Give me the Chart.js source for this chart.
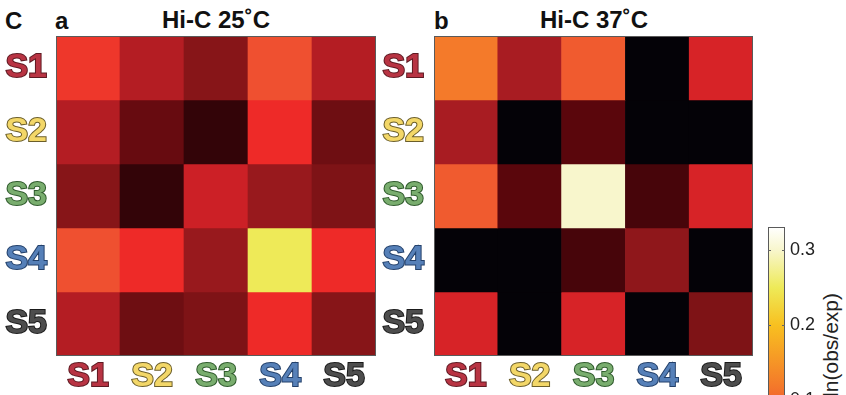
<!DOCTYPE html>
<html>
<head>
<meta charset="utf-8">
<script src="https://cdn.jsdelivr.net/npm/chart.js@4"></script>
<style>
  html, body { margin: 0; padding: 0; background: #fff; width: 846px; height: 395px; overflow: hidden; position: relative; font-family: "Liberation Sans", Arial, Helvetica, sans-serif; }
  canvas { position: absolute; }
  .txt { position: absolute; font-weight: bold; color: #111; white-space: nowrap; line-height: 1; }
  .cbtitle { position: absolute; width: 200px; text-align: right; font-size: 21px; line-height: 1; color: #222; white-space: nowrap; transform: rotate(-90deg); transform-origin: left top; }
</style>
</head>
<body>
<div class="txt" style="left:5px;top:9px;font-size:24px">C</div>
<div class="txt" style="left:55px;top:9px;font-size:24px">a</div>
<div class="txt" style="left:434px;top:9px;font-size:24px">b</div>
<div class="txt" id="titleA" style="left:56px;top:8px;width:320px;text-align:center;font-size:24px"></div>
<div class="txt" id="titleB" style="left:434px;top:8px;width:320px;text-align:center;font-size:24px"></div>
<div class="cbtitle" id="cbTitle" style="left:820px;top:493px"></div>

<canvas id="heatA" width="380" height="395" style="left:0;top:0"></canvas>
<canvas id="heatB" width="380" height="395" style="left:378px;top:0"></canvas>
<canvas id="cbar" width="106" height="600" style="left:740px;top:0"></canvas>

<script>
// Segments along both axes of each contact map
const categories = ['S1', 'S2', 'S3', 'S4', 'S5'];

// ln(obs/exp) contact enrichment, rows S1..S5 (top to bottom), columns S1..S5
const hic25 = [
  [0.060, 0.025, 0.000, 0.080, 0.025],
  [0.025, -0.030, -0.060, 0.050, -0.025],
  [0.000, -0.060, 0.035, 0.010, -0.010],
  [0.080, 0.050, 0.010, 0.250, 0.050],
  [0.025, -0.025, -0.010, 0.050, 0.000]
];
const hic37 = [
  [0.120, 0.020, 0.090, -0.090, 0.040],
  [0.020, -0.090, -0.040, -0.090, -0.090],
  [0.090, -0.040, 0.300, -0.050, 0.040],
  [-0.090, -0.090, -0.050, 0.005, -0.090],
  [0.040, -0.090, 0.040, -0.090, -0.010]
];

// Panel titles and colour bar
const panelTitles = ['Hi-C 25˚C', 'Hi-C 37˚C'];
const colorbarTicks = [0.1, 0.2, 0.3];
const colorbarLabel = 'ln(obs/exp)';
const colorMin = -0.1;
const colorMax = 0.331;

// "hot"-style colour map: value -> colour stops
const colormapStops = [
  [-0.100, '#030106'],
  [-0.080, '#050208'],
  [-0.060, '#330408'],
  [-0.040, '#5a060c'],
  [-0.020, '#741014'],
  [0.000, '#871518'],
  [0.020, '#a81c22'],
  [0.035, '#cc2026'],
  [0.050, '#ee2a28'],
  [0.080, '#ef5030'],
  [0.120, '#f47a2a'],
  [0.200, '#f8c020'],
  [0.250, '#eeea58'],
  [0.300, '#f8f6cc'],
  [0.331, '#ffffff']
];

// Segment label colours (fill / outline)
const labelFill = ['#b83443', '#f3d768', '#79ad6e', '#5680b8', '#4d4d4d'];
const labelStroke = ['#5e1a22', '#6b5e2a', '#2f5a2c', '#24416b', '#1a1a1a'];

document.getElementById('titleA').textContent = panelTitles[0];
document.getElementById('titleB').textContent = panelTitles[1];
document.getElementById('cbTitle').textContent = colorbarLabel;

function hexToRgb(h) {
  return [parseInt(h.slice(1, 3), 16), parseInt(h.slice(3, 5), 16), parseInt(h.slice(5, 7), 16)];
}
function colorFor(v) {
  if (v <= colormapStops[0][0]) return colormapStops[0][1];
  for (let i = 1; i < colormapStops.length; i++) {
    const [v1, c1] = colormapStops[i];
    if (v <= v1) {
      const [v0, c0] = colormapStops[i - 1];
      const t = (v - v0) / (v1 - v0);
      const a = hexToRgb(c0), b = hexToRgb(c1);
      const m = a.map((x, k) => Math.round(x + (b[k] - x) * t));
      return 'rgb(' + m.join(',') + ')';
    }
  }
  return colormapStops[colormapStops.length - 1][1];
}

// Thin frame around the plotting area
const framePlugin = {
  id: 'frame',
  afterDatasetsDraw(chart) {
    const { ctx, chartArea: a } = chart;
    ctx.save();
    ctx.strokeStyle = '#5a5a5a';
    ctx.lineWidth = 1;
    ctx.strokeRect(a.left + 0.5, a.top + 0.5, a.right - a.left - 1, a.bottom - a.top - 1);
    ctx.restore();
  }
};

// Short inward tick marks on both edges of the colour bar
const innerTicksPlugin = {
  id: 'innerTicks',
  afterDatasetsDraw(chart) {
    const { ctx, chartArea: a } = chart;
    const ys = chart.scales.y;
    ctx.save();
    ctx.strokeStyle = '#666';
    ctx.lineWidth = 1;
    ys.ticks.forEach(t => {
      const y = Math.round(ys.getPixelForValue(t.value)) + 0.5;
      ctx.beginPath();
      ctx.moveTo(a.left, y); ctx.lineTo(a.left + 3, y);
      ctx.moveTo(a.right - 3, y); ctx.lineTo(a.right, y);
      ctx.stroke();
    });
    ctx.restore();
  }
};

const segFont = { family: '"Liberation Sans", Arial, Helvetica, sans-serif', size: 34, weight: 'bold', lineHeight: 1 };

function heatmap(canvasId, matrix, yPad, rightPad) {
  const datasets = matrix.map((row, r) => ({
    label: categories[r],
    data: row.map(() => 1),
    backgroundColor: row.map(colorFor),
    borderWidth: 0,
    barPercentage: 1,
    categoryPercentage: 1
  }));
  return new Chart(document.getElementById(canvasId), {
    type: 'bar',
    data: { labels: categories, datasets },
    plugins: [framePlugin],
    options: {
      responsive: false,
      animation: false,
      layout: { padding: { top: 36, right: rightPad, left: 0, bottom: 0 } },
      plugins: { legend: { display: false }, tooltip: { enabled: false }, title: { display: false } },
      scales: {
        x: {
          stacked: true,
          grid: { display: false, drawTicks: false },
          border: { display: false },
          afterFit(s) { s.height = 39; },
          ticks: {
            autoSkip: false, maxRotation: 0, padding: 4,
            font: segFont,
            color: c => labelFill[c.index],
            textStrokeColor: c => labelStroke[c.index],
            textStrokeWidth: 2
          }
        },
        y: {
          stacked: true,
          reverse: true,
          min: 0, max: categories.length,
          grid: { display: false, drawTicks: false },
          border: { display: false },
          afterFit(s) { s.width = 56; },
          afterBuildTicks(s) { s.ticks = categories.map((_, i) => ({ value: i + 0.5 })); },
          ticks: {
            autoSkip: false, padding: yPad,
            font: segFont,
            callback: (v, i) => categories[i],
            color: c => labelFill[c.index],
            textStrokeColor: c => labelStroke[c.index],
            textStrokeWidth: 2
          }
        }
      }
    }
  });
}

heatmap('heatA', hic25, 9, 4);
heatmap('heatB', hic37, 10, 5);

// Colour bar: one floating bar filled with the colour map gradient
new Chart(document.getElementById('cbar'), {
  type: 'bar',
  data: {
    labels: [colorbarLabel],
    datasets: [{
      data: [[colorMin, colorMax]],
      borderWidth: 0,
      barPercentage: 1,
      categoryPercentage: 1,
      backgroundColor(ctx) {
        const { chart } = ctx;
        if (!chart.chartArea) return '#888';
        const ys = chart.scales.y;
        const y0 = ys.getPixelForValue(colorMin), y1 = ys.getPixelForValue(colorMax);
        const g = chart.ctx.createLinearGradient(0, y0, 0, y1);
        colormapStops.forEach(([v, c]) => g.addColorStop((v - colorMin) / (colorMax - colorMin), c));
        return g;
      }
    }]
  },
  plugins: [framePlugin, innerTicksPlugin],
  options: {
    responsive: false,
    animation: false,
    layout: { padding: { top: 227, left: 28, right: 0, bottom: 50 } },
    plugins: { legend: { display: false }, tooltip: { enabled: false } },
    scales: {
      x: { display: false },
      y: {
        position: 'right',
        min: colorMin, max: colorMax,
        afterFit(s) { s.width = 61; },
        afterBuildTicks(s) { s.ticks = colorbarTicks.map(v => ({ value: v })); },
        grid: { display: false, drawTicks: false },
        border: { display: false },
        ticks: {
          padding: 5,
          color: '#222',
          font: { family: '"Liberation Sans", Arial, Helvetica, sans-serif', size: 18 },
          callback: v => v.toFixed(1)
        }
      }
    }
  }
});
</script>
</body>
</html>
